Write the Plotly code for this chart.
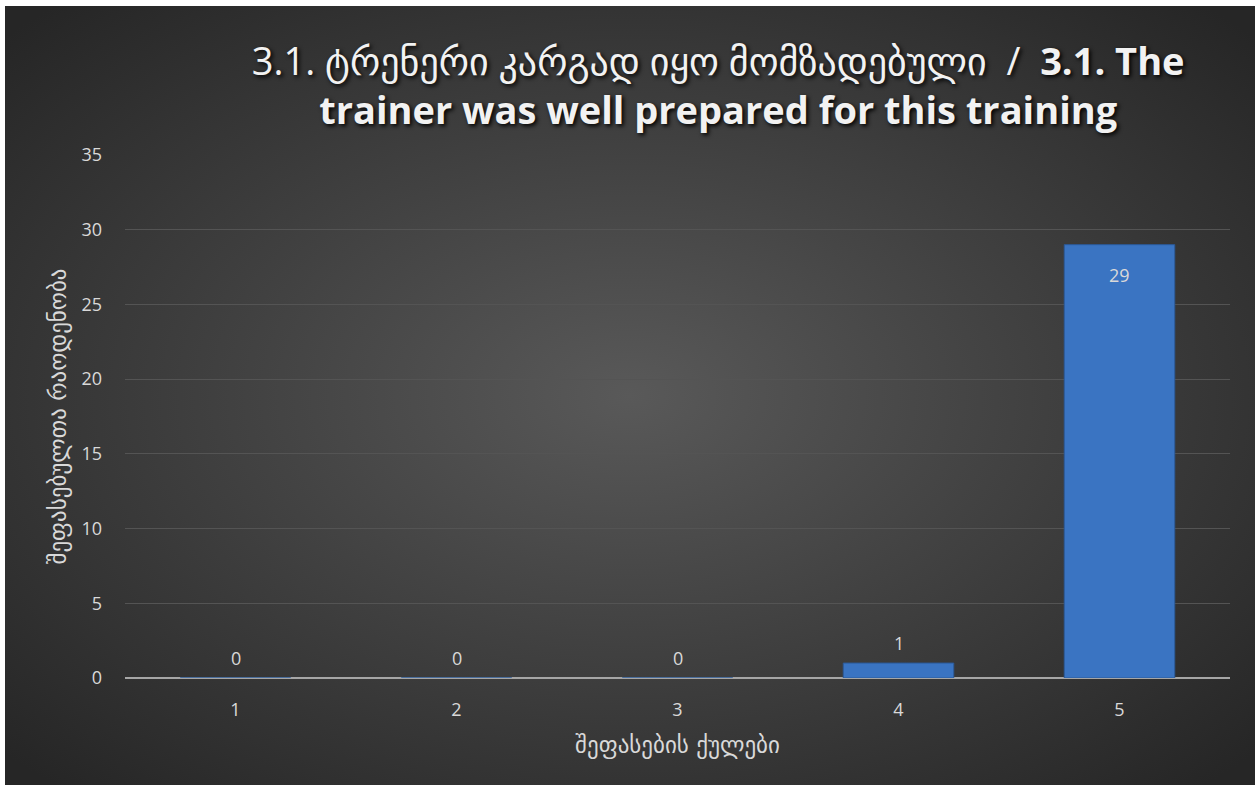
import base64
import plotly.graph_objects as go

categories = ["1", "2", "3", "4", "5"]
counts = [0, 0, 0, 1, 29]
y_ticks = [0, 5, 10, 15, 20, 25, 30, 35]

title_ka = "3.1. ტრენერი კარგად იყო მომზადებული"
title_en_1 = "3.1. The"
title_en_2 = "trainer was well prepared for this training"
x_title = "შეფასების ქულები"
y_title = "შეფასებულთა რაოდენობა"

W, H = 1260, 789
ML, MR, MT, MB = 125, 30, 155, 111
pw, ph = W - ML - MR, H - MT - MB

def px_to_paper_x(px):
    return (px - ML) / pw

def px_to_paper_y(py):
    return (H - MB - py) / ph

svg = """<svg xmlns='http://www.w3.org/2000/svg' width='1250' height='779'>
<defs><radialGradient id='g' cx='50%' cy='50%' r='68%'>
<stop offset='0%' stop-color='#595959'/><stop offset='100%' stop-color='#262626'/>
</radialGradient></defs>
<rect width='1250' height='779' fill='url(#g)'/></svg>"""
src = "data:image/svg+xml;base64," + base64.b64encode(svg.encode()).decode()

label_font = dict(color="#d9d9d9", size=18, family="Open Sans, DejaVu Sans")

fig = go.Figure(go.Bar(
    x=categories, y=counts,
    marker=dict(color="#3a74c2", line=dict(color="#2b5a99", width=1)),
    width=0.5,
    hoverinfo="x+y",
))

annotations = []
for i, v in enumerate(counts):
    inside = v >= 10
    annotations.append(dict(
        x=i, y=v, xref="x", yref="y", text=str(v), showarrow=False,
        yanchor="top" if inside else "bottom",
        yshift=-16 if inside else 6,
        font=label_font,
    ))

fig.update_layout(
    width=W, height=H,
    margin=dict(l=ML, r=MR, t=MT, b=MB),
    paper_bgcolor="white",
    plot_bgcolor="rgba(0,0,0,0)",
    showlegend=False,
    annotations=annotations,
    title=dict(
        text=f"{title_ka}  /  <b>{title_en_1}</b><br><b>{title_en_2}</b>",
        x=0.57, xanchor="center", y=0.905, yanchor="top",
        font=dict(size=38, color="#f2f2f2", family="Open Sans, DejaVu Sans",
                  shadow="2px 2px 4px black"),
    ),
    images=[dict(
        source=src, xref="paper", yref="paper",
        x=px_to_paper_x(5), y=px_to_paper_y(6),
        sizex=px_to_paper_x(1255) - px_to_paper_x(5),
        sizey=px_to_paper_y(6) - px_to_paper_y(785),
        xanchor="left", yanchor="top", sizing="stretch", layer="below",
    )],
    xaxis=dict(
        type="category", range=[-0.5, 4.5],
        title=dict(text=x_title, font=dict(size=23, color="#d9d9d9", family="DejaVu Sans"), standoff=16),
        tickfont=dict(size=18, color="#d9d9d9", family="Open Sans, DejaVu Sans"),
        ticklabelstandoff=19,
        showgrid=False, showline=False, ticks="",
    ),
    yaxis=dict(
        title=dict(text=y_title, font=dict(size=23, color="#d9d9d9", family="DejaVu Sans"), standoff=8),
        tickfont=dict(size=18, color="#d9d9d9", family="Open Sans, DejaVu Sans"),
        ticklabelstandoff=22,
        range=[0, 35], tickvals=y_ticks, showgrid=True, gridcolor="#545454", gridwidth=1,
        zeroline=True, zerolinecolor="#a6a6a6", zerolinewidth=2,
        ticks="", showline=False,
    ),
    bargap=0.5,
)

fig.write_html("out.html", config={"displayModeBar": False},
               post_script="document.body.style.margin='0px';")
